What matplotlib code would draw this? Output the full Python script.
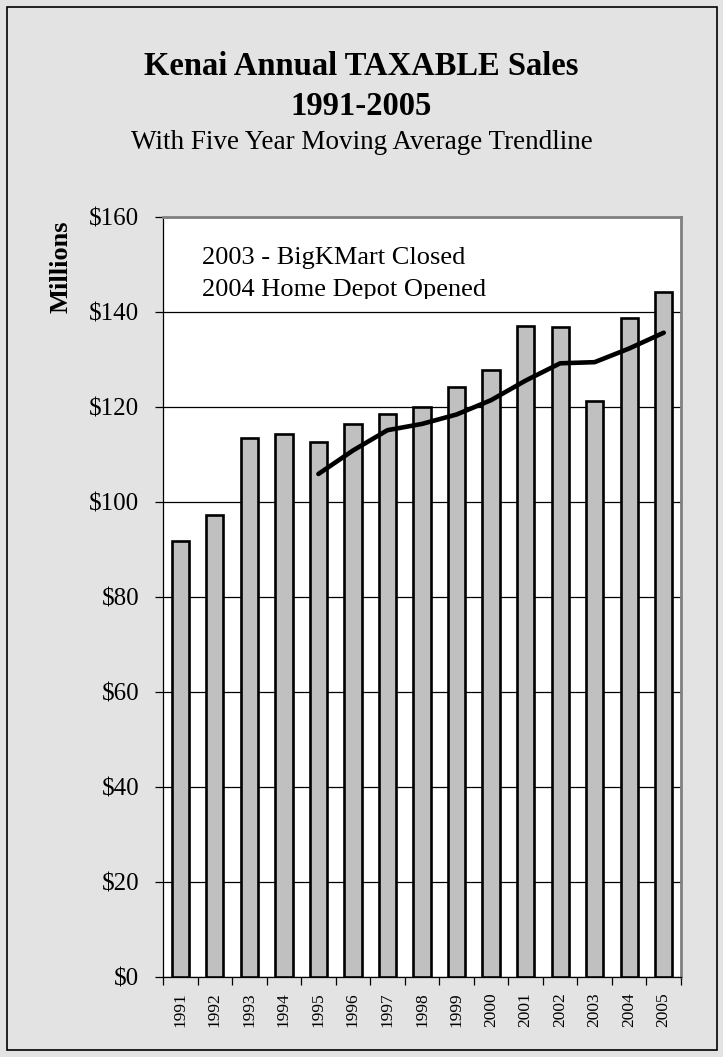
import numpy as np
import pandas as pd
from matplotlib import pyplot as plt
from matplotlib.patches import Rectangle
from matplotlib.transforms import Bbox, TransformedBbox

plt.rcParams['font.family'] = ['Liberation Serif', 'DejaVu Serif']

years = [str(y) for y in range(1991, 2006)]
sales = [91.8, 97.2, 113.5, 114.4, 112.6, 116.5, 118.6, 120.1,
         124.3, 127.7, 137.1, 136.8, 121.3, 138.7, 144.3]
ytick_vals = [0, 20, 40, 60, 80, 100, 120, 140, 160]
ytick_labels = [f'${v}' for v in ytick_vals]
notes = ['2003 - BigKMart Closed', '2004 Home Depot Opened']

# five year moving average trendline (same as Excel's trendline)
moving_avg = pd.Series(sales).rolling(5).mean()

W, H = 723, 1057
fig = plt.figure(figsize=(W / 100, H / 100), dpi=100)
fig.patch.set_facecolor('#e3e3e3')
fig.patches.append(Rectangle((7 / W, 7 / H), 710 / W, 1043 / H, transform=fig.transFigure,
                             fill=False, edgecolor='black', linewidth=1.2))

left, right, top, bottom = 163, 681, 217, 977
ax = fig.add_axes([left / W, 1 - bottom / H, (right - left) / W, (bottom - top) / H])
ax.set_facecolor('white')

x = np.arange(len(years))
ax.bar(x, sales, width=0.5, color='#c0c0c0', edgecolor='black', linewidth=1.9, zorder=3)
ax.plot(x[4:], moving_avg[4:], color='black', linewidth=3.3, solid_capstyle='round', zorder=4)

ax.set_xlim(-0.5, len(years) - 0.5)
ax.set_ylim(0, 160)
ax.set_yticks(ytick_vals)
ax.set_yticklabels(ytick_labels, fontsize=18)
ax.yaxis.grid(True, color='black', linewidth=0.9, zorder=0)
ax.set_axisbelow(True)
ax.tick_params(axis='y', direction='out', length=6, width=0.9, pad=11)

ax.set_xticks(x)
ax.set_xticklabels(years, rotation=90, fontsize=12.5)
ax.set_xticks(np.arange(-0.5, len(years)), minor=True)
ax.tick_params(axis='x', which='major', length=0, pad=11)
ax.tick_params(axis='x', which='minor', direction='out', length=6, width=0.9)

for side in ('top', 'right'):
    ax.spines[side].set_color('#808080')
    ax.spines[side].set_linewidth(2)
for side in ('left', 'bottom'):
    ax.spines[side].set_color('black')
    ax.spines[side].set_linewidth(0.9)

fig.text(61 / W, 1 - 267 / H, 'Millions', rotation=90, fontsize=19, fontweight='bold',
         ha='center', va='center')

fig.text(0.5, 1 - 75 / H, 'Kenai Annual TAXABLE Sales', fontsize=23.5, fontweight='bold',
         ha='center', va='baseline')
fig.text(0.5, 1 - 115 / H, '1991-2005', fontsize=23.5, fontweight='bold', ha='center',
         va='baseline')
fig.text(0.5, 1 - 149 / H, 'With Five Year Moving Average Trendline', fontsize=19.5,
         ha='center', va='baseline')

# the note box is cut off just under the second line, descenders clipped
note_clip = TransformedBbox(Bbox([[0, 1 - 299 / H], [1, 1]]), fig.transFigure)
for i, note in enumerate(notes):
    t = fig.text(202 / W, 1 - (264 + 32 * i) / H, note, fontsize=19, ha='left', va='baseline')
    t.set_clip_box(note_clip)
    t.set_clip_on(True)

fig.savefig('out.png', dpi=100, facecolor=fig.get_facecolor())
